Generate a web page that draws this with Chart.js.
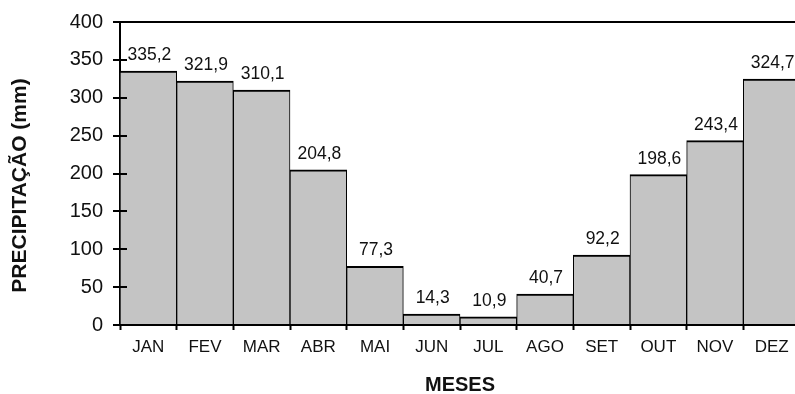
<!DOCTYPE html>
<html>
<head>
<meta charset="utf-8">
<script src="https://cdn.jsdelivr.net/npm/chart.js@4/dist/chart.umd.min.js"></script>
<style>
  html, body { margin: 0; padding: 0; background: #fff; overflow: hidden; }
  #wrap { width: 795px; height: 394px; overflow: hidden; }
</style>
</head>
<body>
<div id="wrap"><canvas id="c" width="801" height="394"></canvas></div>
<script>
// Precipitação média mensal (mm)
const meses = ['JAN', 'FEV', 'MAR', 'ABR', 'MAI', 'JUN', 'JUL', 'AGO', 'SET', 'OUT', 'NOV', 'DEZ'];
const precipitacao = [335.2, 321.9, 310.1, 204.8, 77.3, 14.3, 10.9, 40.7, 92.2, 198.6, 243.4, 324.7];
const yTicks = [0, 50, 100, 150, 200, 250, 300, 350, 400];
const tituloY = 'PRECIPITAÇÃO (mm)';
const tituloX = 'MESES';

const FONT = "'Liberation Sans', Arial, sans-serif";
const TEXT = '#111';

const fmt = v => v.toFixed(1).replace('.', ',');

// value labels above each bar
const valueLabels = {
  id: 'valueLabels',
  afterDatasetsDraw(chart) {
    const ctx = chart.ctx;
    const meta = chart.getDatasetMeta(0);
    ctx.save();
    ctx.font = '17.5px ' + FONT;
    ctx.fillStyle = TEXT;
    ctx.textAlign = 'center';
    ctx.textBaseline = 'alphabetic';
    meta.data.forEach((bar, i) => {
      ctx.fillText(fmt(precipitacao[i]), bar.x + 1, bar.y - 11);
    });
    ctx.restore();
  }
};

// y tick marks crossing the axis line
const innerTicks = {
  id: 'innerTicks',
  afterDatasetsDraw(chart) {
    const ctx = chart.ctx;
    const y = chart.scales.y;
    const left = chart.chartArea.left;
    ctx.save();
    ctx.strokeStyle = '#000';
    ctx.lineWidth = 2;
    y.ticks.forEach(t => {
      if (t.value === 0 || t.value === 400) return;
      const py = Math.round(y.getPixelForValue(t.value));
      ctx.beginPath();
      ctx.moveTo(left, py);
      ctx.lineTo(left + 7, py);
      ctx.stroke();
    });
    ctx.restore();
  }
};

// rotated y-axis title, set slightly below the middle of the plot
const yTitle = {
  id: 'yTitle',
  afterDraw(chart) {
    const ctx = chart.ctx;
    const a = chart.chartArea;
    ctx.save();
    ctx.translate(20.5, (a.top + a.bottom) / 2 + 12);
    ctx.rotate(-Math.PI / 2);
    ctx.font = 'bold 21px ' + FONT;
    ctx.fillStyle = TEXT;
    ctx.textAlign = 'center';
    ctx.textBaseline = 'middle';
    ctx.fillText(tituloY, 0, 0);
    ctx.restore();
  }
};

new Chart(document.getElementById('c'), {
  type: 'bar',
  data: {
    labels: meses,
    datasets: [{
      data: precipitacao,
      backgroundColor: '#c4c4c4',
      borderColor: '#000',
      borderWidth: { top: 2, left: 1, right: 1, bottom: 0 },
      borderSkipped: false,
      barPercentage: 1,
      categoryPercentage: 1
    }]
  },
  options: {
    responsive: false,
    devicePixelRatio: 1,
    animation: false,
    layout: { padding: { top: 22, right: 1, bottom: 0, left: 0 } },
    plugins: { legend: { display: false }, tooltip: { enabled: false } },
    scales: {
      x: {
        afterFit(scale) { scale.height = 69; },
        grid: {
          offset: true,
          drawOnChartArea: false,
          tickLength: 5,
          tickColor: '#000',
          tickWidth: 2
        },
        border: { color: '#000', width: 2 },
        ticks: { color: TEXT, font: { family: FONT, size: 17 }, padding: 7, maxRotation: 0 },
        title: {
          display: true,
          text: tituloX,
          color: TEXT,
          font: { family: FONT, size: 20, weight: 'bold', lineHeight: 0.9 },
          padding: { top: 0, bottom: 0 }
        }
      },
      y: {
        min: 0,
        max: 400,
        afterFit(scale) { scale.width = 120; },
        afterBuildTicks(scale) { scale.ticks = yTicks.map(v => ({ value: v })); },
        grid: {
          color: ctx => (ctx.tick && ctx.tick.value === 400 ? '#000' : 'rgba(0,0,0,0)'),
          lineWidth: 2,
          tickLength: 7,
          tickColor: '#000',
          tickWidth: 2
        },
        border: { color: '#000', width: 2 },
        ticks: { color: TEXT, font: { family: FONT, size: 20 }, padding: 10 }
      }
    }
  },
  plugins: [valueLabels, innerTicks, yTitle]
});
</script>
</body>
</html>
